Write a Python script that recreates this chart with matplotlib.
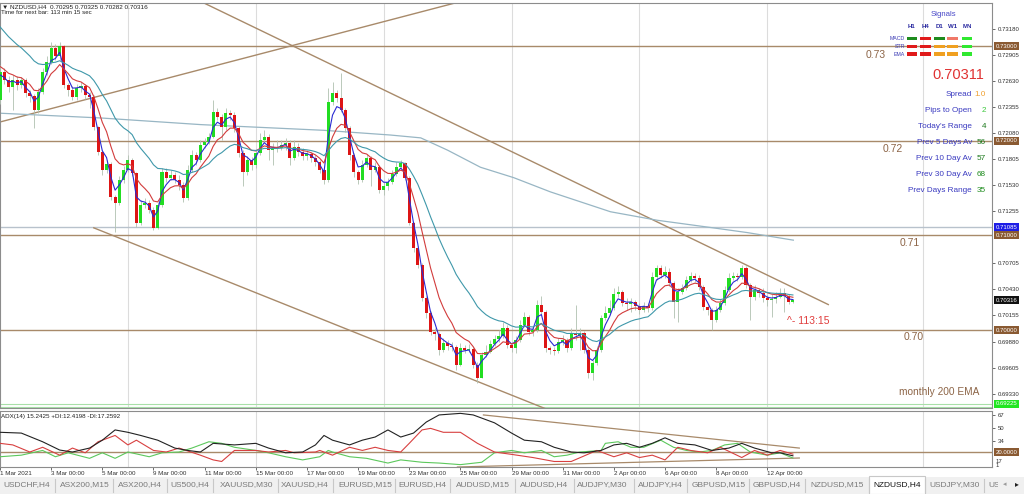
import numpy as np
import pandas as pd
import matplotlib
matplotlib.use("Agg")
import matplotlib.pyplot as plt
from matplotlib.patches import Rectangle
from matplotlib.transforms import blended_transform_factory, offset_copy

plt.rcParams['font.family'] = ['Liberation Sans', 'DejaVu Sans']

# NZDUSD H4 candles, 1 Mar 2021 00:00 onwards (one entry per 4h bar)
first_open = 0.7243
closes = [
    0.7273, 0.7264, 0.7257, 0.7264, 0.7259, 0.7264, 0.7250, 0.7247, 0.7232, 0.7251,
    0.7273, 0.7283, 0.7298, 0.7289, 0.7300, 0.7259, 0.7254, 0.7246, 0.7256, 0.7258,
    0.7248, 0.7246, 0.7214, 0.7188, 0.7169, 0.7175, 0.7141, 0.7134, 0.7159, 0.7169,
    0.7180, 0.7166, 0.7113, 0.7132, 0.7134, 0.7127, 0.7108, 0.7132, 0.7167, 0.7161,
    0.7164, 0.7159, 0.7153, 0.7140, 0.7169, 0.7185, 0.7180, 0.7196, 0.7199, 0.7204,
    0.7230, 0.7225, 0.7214, 0.7229, 0.7227, 0.7213, 0.7187, 0.7167, 0.7180, 0.7174,
    0.7187, 0.7201, 0.7204, 0.7190, 0.7192, 0.7192, 0.7196, 0.7198, 0.7182, 0.7193,
    0.7188, 0.7184, 0.7186, 0.7182, 0.7177, 0.7169, 0.7159, 0.7241, 0.7250, 0.7245,
    0.7232, 0.7213, 0.7185, 0.7167, 0.7159, 0.7174, 0.7182, 0.7169, 0.7172, 0.7148,
    0.7152, 0.7156, 0.7165, 0.7172, 0.7176, 0.7161, 0.7113, 0.7087, 0.7069, 0.7034,
    0.7018, 0.6998, 0.6996, 0.6979, 0.6986, 0.6983, 0.6982, 0.6963, 0.6981, 0.6979,
    0.6980, 0.6963, 0.6950, 0.6974, 0.6977, 0.6985, 0.6991, 0.6994, 0.7002, 0.6984,
    0.6981, 0.6990, 0.7005, 0.7014, 0.6998, 0.7000, 0.7027, 0.7019, 0.6981, 0.6979,
    0.6978, 0.6988, 0.6990, 0.6981, 0.6997, 0.6995, 0.6997, 0.6979, 0.6955, 0.6965,
    0.6979, 0.7013, 0.7018, 0.7023, 0.7038, 0.7040, 0.7029, 0.7028, 0.7030, 0.7026,
    0.7021, 0.7026, 0.7023, 0.7056, 0.7066, 0.7058, 0.7061, 0.7050, 0.7030, 0.7040,
    0.7045, 0.7053, 0.7057, 0.7055, 0.7046, 0.7024, 0.7021, 0.7011, 0.7021, 0.7029,
    0.7042, 0.7055, 0.7057, 0.7056, 0.7066, 0.7048, 0.7035, 0.7042, 0.7039, 0.7034,
    0.7032, 0.7033, 0.7035, 0.7039, 0.7036, 0.70295, 0.70316,
]
highs = [
    0.7280, 0.7277, 0.7268, 0.7269, 0.7268, 0.7267, 0.7266, 0.7254, 0.7249, 0.7256,
    0.7277, 0.7289, 0.7304, 0.7302, 0.7304, 0.7301, 0.7261, 0.7258, 0.7260, 0.7262,
    0.7260, 0.7251, 0.7248, 0.7216, 0.7190, 0.7180, 0.7178, 0.7143, 0.7163, 0.7173,
    0.7185, 0.7182, 0.7167, 0.7137, 0.7140, 0.7137, 0.7130, 0.7135, 0.7171, 0.7171,
    0.7169, 0.7167, 0.7164, 0.7156, 0.7174, 0.7190, 0.7188, 0.7201, 0.7203, 0.7208,
    0.7243, 0.7235, 0.7228, 0.7235, 0.7232, 0.7230, 0.7216, 0.7190, 0.7184, 0.7183,
    0.7190, 0.7208, 0.7211, 0.7207, 0.7198, 0.7201, 0.7201, 0.7203, 0.7201, 0.7201,
    0.7198, 0.7192, 0.7190, 0.7188, 0.7185, 0.7180, 0.7172, 0.7256, 0.7262, 0.7254,
    0.7272, 0.7235, 0.7216, 0.7187, 0.7169, 0.7180, 0.7186, 0.7184, 0.7178, 0.7174,
    0.7156, 0.7161, 0.7169, 0.7177, 0.7180, 0.7178, 0.7163, 0.7114, 0.7089, 0.7071,
    0.7036, 0.7020, 0.7002, 0.6998, 0.6992, 0.6990, 0.6988, 0.6984, 0.6986, 0.6984,
    0.6985, 0.6982, 0.6966, 0.6977, 0.6984, 0.6990, 0.6995, 0.7000, 0.7009, 0.7005,
    0.6988, 0.6994, 0.7011, 0.7019, 0.7016, 0.7004, 0.7032, 0.7036, 0.7021, 0.6983,
    0.6982, 0.6992, 0.6995, 0.6992, 0.7002, 0.7027, 0.7002, 0.6999, 0.6981, 0.6968,
    0.6983, 0.7016, 0.7026, 0.7032, 0.7045, 0.7047, 0.7042, 0.7034, 0.7034, 0.7032,
    0.7029, 0.7030, 0.7029, 0.7061, 0.7069, 0.7069, 0.7068, 0.7066, 0.7052, 0.7045,
    0.7049, 0.7057, 0.7061, 0.7060, 0.7058, 0.7048, 0.7027, 0.7023, 0.7025, 0.7033,
    0.7047, 0.7060, 0.7061, 0.7060, 0.7069, 0.7068, 0.7050, 0.7048, 0.7045, 0.7045,
    0.7037, 0.7038, 0.7040, 0.7045, 0.7044, 0.7038, 0.70325,
]
lows = [
    0.7239, 0.7260, 0.7251, 0.7232, 0.7254, 0.7256, 0.7246, 0.7241, 0.7213, 0.7229,
    0.7249, 0.7269, 0.7281, 0.7285, 0.7285, 0.7256, 0.7247, 0.7243, 0.7243, 0.7251,
    0.7244, 0.7235, 0.7211, 0.7185, 0.7164, 0.7166, 0.7137, 0.7104, 0.7132, 0.7155,
    0.7167, 0.7163, 0.7109, 0.7111, 0.7129, 0.7124, 0.7106, 0.7107, 0.7130, 0.7156,
    0.7159, 0.7155, 0.7148, 0.7135, 0.7137, 0.7167, 0.7174, 0.7178, 0.7192, 0.7197,
    0.7203, 0.7222, 0.7201, 0.7211, 0.7222, 0.7209, 0.7183, 0.7152, 0.7164, 0.7169,
    0.7171, 0.7185, 0.7199, 0.7180, 0.7174, 0.7188, 0.7190, 0.7190, 0.7174, 0.7180,
    0.7184, 0.7180, 0.7180, 0.7178, 0.7173, 0.7166, 0.7154, 0.7156, 0.7238, 0.7241,
    0.7230, 0.7209, 0.7180, 0.7162, 0.7154, 0.7156, 0.7172, 0.7152, 0.7167, 0.7145,
    0.7143, 0.7148, 0.7154, 0.7163, 0.7171, 0.7159, 0.7111, 0.7083, 0.7066, 0.7031,
    0.7013, 0.6995, 0.6990, 0.6974, 0.6977, 0.6979, 0.6978, 0.6958, 0.6962, 0.6976,
    0.6977, 0.6960, 0.6944, 0.6949, 0.6972, 0.6976, 0.6983, 0.6988, 0.6992, 0.6981,
    0.6977, 0.6976, 0.6988, 0.7003, 0.6995, 0.6994, 0.6998, 0.7016, 0.6977, 0.6975,
    0.6974, 0.6976, 0.6984, 0.6977, 0.6979, 0.6990, 0.6979, 0.6976, 0.6949, 0.6947,
    0.6963, 0.6977, 0.7011, 0.7016, 0.7021, 0.7035, 0.7025, 0.7021, 0.7019, 0.7021,
    0.7017, 0.7019, 0.7019, 0.7021, 0.7053, 0.7055, 0.7055, 0.7047, 0.7013, 0.7009,
    0.7038, 0.7042, 0.7051, 0.7051, 0.7042, 0.7021, 0.7016, 0.7000, 0.7009, 0.7019,
    0.7027, 0.7040, 0.7053, 0.7052, 0.7054, 0.7045, 0.7011, 0.7032, 0.7035, 0.7030,
    0.7025, 0.7014, 0.7029, 0.7034, 0.7019, 0.7028, 0.70282,
]

# moving averages (EMA 3 / 8 / 21 on close) with their values at the left edge
ema_specs = [(3, 0.7266, '#2a2ad2'), (8, 0.7280, '#d23c3c'), (21, 0.7325, '#3f98aa')]

# long moving average
slow_ma_bar = [0.2, 23.7, 47.1, 75.9, 91.6, 98.7, 105.0, 112.7, 120.5, 129.1, 143.2, 154.2, 167.3, 175.3, 186.1]
slow_ma = [0.7229, 0.7224, 0.7217, 0.7211, 0.7206, 0.7203, 0.7190, 0.7172, 0.7161, 0.7146,
           0.7125, 0.7116, 0.7108, 0.7103, 0.7095]

# ADX(14) panel
adx_bar = [0, 5, 10, 14, 17, 21, 24, 27, 30, 33, 37, 41, 44, 47, 50, 55, 60, 63, 67, 71,
           74, 76, 78, 82, 85, 88, 91, 94, 97, 100, 103, 108, 111, 116, 120, 123, 127, 130, 134, 137,
           141, 144, 147, 150, 153, 156, 159, 163, 167, 171, 174, 177, 181, 183, 186]
adx = [45, 44, 33, 22.5, 20, 25, 35, 48, 45, 41, 35, 25, 22, 20, 31, 29, 31, 25, 19, 20,
       29, 41, 35, 29, 35, 39, 48, 39, 44, 58, 67, 69, 67, 57, 44, 35, 33, 26, 20, 19,
       22, 29, 31, 26, 31, 38, 31, 29, 22, 25, 31, 25, 19, 19, 15.2]
plus_di_bar = [0, 5, 10, 13, 16, 21, 24, 27, 30, 35, 38, 42, 45, 49, 52, 55, 60, 63, 67, 71,
               75, 77, 78, 82, 86, 91, 94, 99, 103, 108, 113, 116, 120, 123, 127, 130, 133, 136, 141, 142,
               145, 148, 151, 155, 158, 161, 164, 167, 170, 173, 176, 180, 183, 186]
plus_di = [14, 16, 22, 14, 19, 12, 19, 12, 20, 14, 19, 20, 25, 33, 31, 26, 22, 19, 14, 10,
           14, 22, 20, 14, 12, 6, 10, 7, 6, 4, 7, 19, 22, 19, 22, 14, 16, 20, 22, 31,
           33, 26, 26, 35, 26, 22, 20, 22, 29, 31, 20, 16, 19, 12.4]
minus_di_bar = [0, 3, 7, 10, 14, 17, 20, 23, 27, 30, 32, 36, 39, 42, 47, 50, 52, 55, 60, 63,
                67, 69, 74, 75, 78, 82, 85, 88, 91, 94, 96, 99, 101, 104, 108, 112, 116, 120, 125, 130,
                134, 140, 144, 147, 150, 153, 156, 159, 162, 166, 169, 174, 177, 180, 183, 186]
minus_di = [31, 29, 20, 26, 16, 25, 19, 33, 41, 29, 35, 22, 20, 25, 16, 10, 8, 22, 22, 20,
            22, 19, 20, 22, 16, 26, 22, 26, 22, 20, 31, 48, 50, 45, 45, 31, 20, 17, 13, 8,
            8, 22, 14, 19, 13, 16, 10, 26, 22, 19, 26, 13, 22, 16, 22, 17.3]

# drawn objects
levels = [0.73, 0.72, 0.71, 0.70]
level_text = ['0.73', '0.72', '0.71', '0.70']
trendlines = [((0.2, 0.7220), (106.4, 0.7345)),
              ((47.1, 0.7347), (194.3, 0.7027)),
              ((22.0, 0.7108), (129.1, 0.6915))]
adx_trendlines = [((113.4, 67), (187.5, 25)), ((107.3, 1), (187.5, 12.4))]
grey_level = 0.71085
ema200_monthly = [0.69225, 0.69190]

price_ticks = [0.69330, 0.69605, 0.69880, 0.70155, 0.70430, 0.70705, 0.71255,
               0.71530, 0.71805, 0.72080, 0.72355, 0.72630, 0.72905, 0.73180]
price_boxes = [(0.73000, '#8a5a32'), (0.72000, '#8a5a32'), (0.71085, '#1e1ee6'),
               (0.71000, '#8a5a32'), (0.70316, '#111111'), (0.70000, '#8a5a32'),
               (0.69225, '#22e622')]
adx_ticks = [34, 50, 67]
adx_low_labels = ['17', '1']
day_index = [0, 2, 4, 6, 8, 10, 12, 14, 16, 18, 20, 22, 24, 26, 28, 30]
day_labels = ['1 Mar 2021', '3 Mar 00:00', '5 Mar 00:00', '9 Mar 00:00', '11 Mar 00:00',
              '15 Mar 00:00', '17 Mar 00:00', '19 Mar 00:00', '23 Mar 00:00', '25 Mar 00:00',
              '29 Mar 00:00', '31 Mar 00:00', '2 Apr 00:00', '6 Apr 00:00', '8 Apr 00:00',
              '12 Apr 00:00']
week_grid = [30, 60, 90, 120, 150, 180, 216.5]

signal_cols = ['H1', 'H4', 'D1', 'W1', 'MN']
signal_rows = ['MACD', 'STR', 'EMA']
signal_colors = [['#1e8c1e', '#e01a1a', '#1e8c1e', '#f07868', '#30e830'],
                 ['#e01a1a', '#e01a1a', '#f0a020', '#f0a020', '#30e830'],
                 ['#e01a1a', '#e01a1a', '#f0a020', '#f0a020', '#30e830']]
stat_labels = ['Spread', 'Pips to Open', "Today's Range", 'Prev 5 Days Av', 'Prev 10 Day Av',
               'Prev 30 Day Av', 'Prev Days Range']
stat_values = ['1.0', '2', '4', '56', '57', '68', '35']
stat_colors = ['#f0a030', '#3cc83c', '#1e7a1e', '#1e7a1e', '#1e7a1e', '#1e8c1e', '#1e8c1e']

tabs = ['USDCHF,H4', 'ASX200,M15', 'ASX200,H4', 'US500,H4', 'XAUUSD,M30', 'XAUUSD,H4',
        'EURUSD,M15', 'EURUSD,H4', 'AUDUSD,M15', 'AUDUSD,H4', 'AUDJPY,M30', 'AUDJPY,H4',
        'GBPUSD,M15', 'GBPUSD,H4', 'NZDUSD,M15', 'NZDUSD,H4', 'USDJPY,M30']
active_tab = 'NZDUSD,H4'

# ---- figure ----
W, H = 1024, 494
fig = plt.figure(figsize=(W / 100, H / 100), dpi=100)
fig.patch.set_facecolor('white')

ax1 = fig.add_axes([0, 1 - 408 / H, 992 / W, 405 / H])
ax2 = fig.add_axes([0, 1 - 467 / H, 992 / W, 56 / H], sharex=ax1)

brown = '#a88a6a'
closes = np.array(closes)
highs = np.array(highs)
lows = np.array(lows)
opens = np.r_[first_open, closes[:-1]]
highs = np.maximum(highs, np.maximum(opens, closes))
lows = np.minimum(lows, np.minimum(opens, closes))
bars = np.arange(len(closes))

for g in week_grid:
    ax1.axvline(g, color='#dcdcdc', lw=0.8, zorder=0)
    ax2.axvline(g, color='#dcdcdc', lw=0.8, zorder=0)

for lv in levels:
    ax1.axhline(lv, color=brown, lw=1.0, zorder=1)
ax1.axhline(grey_level, color='#b8c2cc', lw=1.0, zorder=1)
for lv in ema200_monthly:
    ax1.axhline(lv, color='#a8e0a8', lw=0.8, zorder=1)
for (b0, p0), (b1, p1) in trendlines:
    ax1.plot([b0, b1], [p0, p1], color=brown, lw=1.0, zorder=1)

ax1.plot(slow_ma_bar, slow_ma, color='#98b6c4', lw=0.9, zorder=2)

# candles
up = closes >= opens
ax1.vlines(bars, lows, highs, color='#b0c0b0', lw=0.6, zorder=3)
body = np.maximum(np.abs(closes - opens), 0.00004)
ax1.bar(bars, body, bottom=np.minimum(opens, closes), width=0.72,
        color=np.where(up, '#22dd22', '#dd1515'), linewidth=0, zorder=4)

for span, seed, col in ema_specs:
    ema = pd.Series(np.r_[seed, closes]).ewm(span=span, adjust=False).mean().values[1:]
    ax1.plot(bars, ema, color=col, lw=0.8, zorder=5)

ax1.set_xlim(0.234, 232.7)
ax1.set_ylim(0.69178, 0.73454)
ax1.yaxis.tick_right()
ax1.set_yticks(price_ticks)
ax1.set_yticklabels([f'{t:.5f}' for t in price_ticks])
ax1.tick_params(axis='y', length=2, width=0.5, pad=2, labelsize=4.3, colors='#303030')
ax1.tick_params(axis='x', bottom=False, labelbottom=False)

tr = blended_transform_factory(ax1.transAxes, ax1.transData)
for p, col in price_boxes:
    ax1.text(1.0035, p, f'{p:.5f}', transform=tr, fontsize=4.3, color='white', va='center',
             ha='left', clip_on=False, zorder=20,
             bbox=dict(boxstyle='square,pad=0.25', fc=col, ec='none'))

# ADX panel
ax2.axhline(20, color=brown, lw=1.0, zorder=1)
for (b0, v0), (b1, v1) in adx_trendlines:
    ax2.plot([b0, b1], [v0, v1], color=brown, lw=0.9, zorder=1)
ax2.plot(plus_di_bar, plus_di, color='#5cc85c', lw=0.8, zorder=3)
ax2.plot(minus_di_bar, minus_di, color='#d84040', lw=0.8, zorder=3)
ax2.plot(adx_bar, adx, color='#222222', lw=0.8, zorder=4)
ax2.set_ylim(1, 72)
ax2.yaxis.tick_right()
ax2.set_yticks(adx_ticks)
ax2.tick_params(axis='y', length=2, width=0.5, pad=2, labelsize=4.3, colors='#303030')
ax2.set_xticks([d * 6 for d in day_index])
ax2.set_xticklabels(day_labels)
ax2.tick_params(axis='x', length=2, width=0.5, pad=1, labelsize=4.5, colors='#333333')
for lbl in ax2.get_xticklabels():
    lbl.set_horizontalalignment('left')
tr2 = blended_transform_factory(ax2.transAxes, ax2.transData)
ax2.text(1.0035, 20, '20.0000', transform=tr2, fontsize=4.3, color='white', va='center',
         ha='left', clip_on=False, zorder=20,
         bbox=dict(boxstyle='square,pad=0.25', fc='#8a5a32', ec='none'))
# the two lowest scale labels sit squeezed under the 20 box, as in the terminal
tr_low = offset_copy(tr2, fig=fig, x=0, y=-7, units='dots')
ax2.text(1.0035, 17, adx_low_labels[0], transform=tr_low, fontsize=4.3, color='#303030',
         va='center', ha='left', clip_on=False)
ax2.text(1.0035, 1, adx_low_labels[1], transform=offset_copy(tr2, fig=fig, x=0, y=2, units='dots'),
         fontsize=4.3, color='#303030', va='center', ha='left', clip_on=False)

for ax in (ax1, ax2):
    for s in ax.spines.values():
        s.set_color('#8c8c8c')
        s.set_linewidth(0.8)

# overlay in pixel coordinates for texts / panels
ov = fig.add_axes([0, 0, 1, 1], zorder=10)
ov.set_xlim(0, W)
ov.set_ylim(H, 0)
ov.axis('off')
ov.patch.set_alpha(0)

ov.text(2, 7, '\u25bc NZDUSD,H4  0.70295 0.70325 0.70282 0.70316', fontsize=4.6,
        color='#202020', va='center', ha='left')
ov.text(1, 12, 'Time for next bar: 113 min 15 sec', fontsize=4.4, color='#202020',
        va='center', ha='left')
ov.text(1, 416, 'ADX(14) 15.2425 +DI:12.4198 -DI:17.2592', fontsize=4.5, color='#202020',
        va='center', ha='left')

# signals block
ov.text(943, 15, 'Signals', fontsize=5.6, color='#4848c8', ha='center', va='center')
col_x = [912, 925.5, 939.5, 952.5, 967]
for cx, name in zip(col_x, signal_cols):
    ov.text(cx, 27, name, fontsize=4.4, color='#2a2aa0', fontweight='bold', ha='center', va='center')
for r, (rname, ry) in enumerate(zip(signal_rows, [38.5, 46.5, 54])):
    ov.text(905, ry, rname, fontsize=3.8, color='#3a3ab4', ha='right', va='center')
    for cx, col in zip(col_x, signal_colors[r]):
        ov.add_patch(Rectangle((cx - 5.3, ry - 1.6), 10.6, 3.2, fc=col, ec='none'))

ov.text(958, 75, '0.70311', fontsize=10.5, color='#e03232', ha='center', va='center')
for k, (lab, val, vc) in enumerate(zip(stat_labels, stat_values, stat_colors)):
    yy = 94 + 16 * k
    ov.text(972, yy, lab, fontsize=5.9, color='#3a3ac0', ha='right', va='center')
    ov.text(986, yy, val, fontsize=5.9, color=vc, ha='right', va='center')

level_pos = [(876, 55), (893, 149), (910, 243), (914, 337)]
for (lx, ly), t in zip(level_pos, level_text):
    ov.text(lx, ly, t, fontsize=7.5, color='#8c6446', ha='center', va='center')
ov.text(939, 392, 'monthly 200 EMA', fontsize=7.3, color='#8c6446', ha='center', va='center')
ov.text(787, 321, '^- 113:15', fontsize=7.5, color='#e03c3c', ha='left', va='center')

# tab bar
ov.add_patch(Rectangle((0, 477), W, 17, fc='#f0f0f0', ec='none'))
seps = [55, 113, 167, 213, 278, 333, 395, 450, 515, 574, 634, 687, 749, 805, 869, 925, 984]
tab_x = [27, 85, 140, 190, 247, 305, 365, 422, 483, 544, 602, 660, 719, 777, 837, 897, 955]
for sx in seps:
    ov.plot([sx, sx], [479, 492], color='#c8c8c8', lw=0.8)
ov.add_patch(Rectangle((869, 476), 56, 18, fc='white', ec='#c8c8c8', lw=0.8))
for tx, name in zip(tab_x, tabs):
    ov.text(tx, 485, name, fontsize=6.0, color='#111111' if name == active_tab else '#7a7a7a',
            ha='center', va='center')
ov.text(988, 485, 'US', fontsize=6.0, color='#7a7a7a', ha='left', va='center', clip_on=True)
ov.add_patch(Rectangle((998, 477), 26, 17, fc='#f0f0f0', ec='none', zorder=5))
ov.text(1005, 485, '\u25c2', fontsize=5, color='#9a9a9a', ha='center', va='center', zorder=6)
ov.text(1017, 485, '\u25b8', fontsize=5.5, color='#202020', ha='center', va='center', zorder=6)

fig.savefig('out.png', dpi=100)
